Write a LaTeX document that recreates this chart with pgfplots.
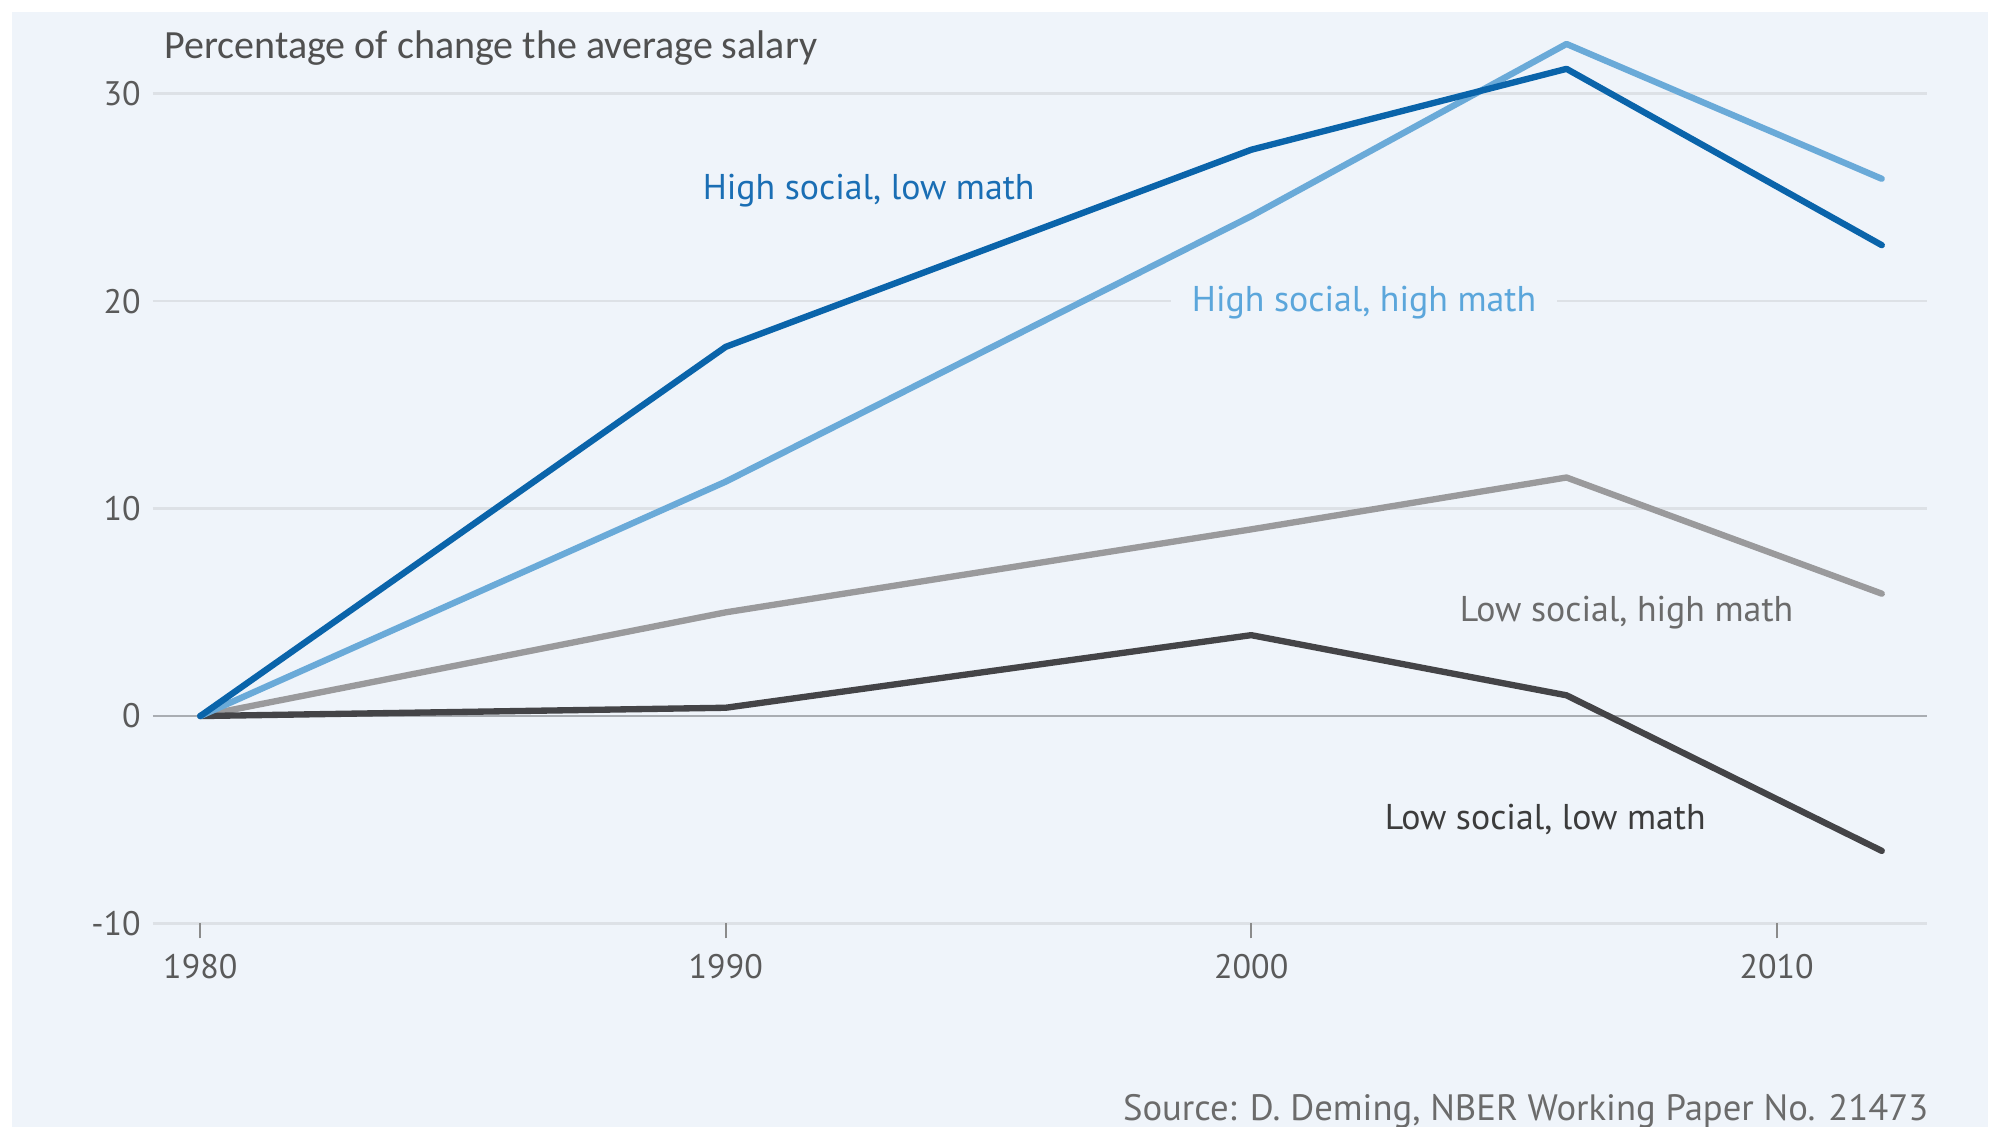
\documentclass[border=0pt]{standalone}
\usepackage{pgfplots}
\pgfplotsset{compat=1.18}
\usepackage{fontspec}
\setmainfont{PT Sans}
\newfontfamily\titlefont{Carlito}
\definecolor{bg}{HTML}{EFF4FA}
\definecolor{darkblue}{HTML}{0A64AA}
\definecolor{lightblue}{HTML}{6AAAD8}
\definecolor{midgray}{HTML}{9A9A9C}
\definecolor{darkgray}{HTML}{444447}
\definecolor{gridc}{HTML}{DDE1E6}
\definecolor{zeroc}{HTML}{A9ADB2}
\definecolor{tickc}{HTML}{5A5A5A}
\definecolor{lbldb}{HTML}{1A6EB4}
\definecolor{lbllb}{HTML}{5BA6DB}
\definecolor{lblmg}{HTML}{6B6B6B}
\definecolor{lbldg}{HTML}{3C3C3C}
\definecolor{titlec}{HTML}{505050}
\pgfplotstableread{
year hslm hshm lshm lslm
1980 0 0 0 0
1990 17.8 11.3 5.0 0.4
2000 27.3 24.1 9.0 3.9
2006 31.2 32.4 11.5 1.0
2012 22.7 25.9 5.9 -6.5
}\datatable
\begin{document}
\begin{tikzpicture}[x=0.3pt,y=0.3pt]
\path[use as bounding box] (0,0) rectangle (1998,1127);
\fill[white] (0,0) rectangle (1998,1127);
\fill[bg] (12,0) rectangle (1988,1115);
\begin{axis}[
  at={(45.9pt,61.05pt)}, anchor=south west,
  scale only axis, width=532.2pt, height=267.6pt,
  xmin=1979.1, xmax=2012.86, ymin=-10, ymax=33,
  axis line style={draw=none},
  xtick={1980,1990,2000,2010}, xticklabels={1980,1990,2000,2010},
  ytick={-10,10,20,30}, yticklabels={-10,10,20,30},
  extra y ticks={0}, extra y tick labels={0},
  extra y tick style={grid style={zeroc, line width=0.75pt}},
  ymajorgrids, grid style={gridc, line width=0.75pt},
  tick pos=left, tick align=outside, major tick length=4.5pt,
  ytick style={draw=none},
  xtick style={draw=tickc!70, line width=0.5pt},
  ticklabel style={font=\fontsize{10.2pt}{12pt}\selectfont, text=tickc},
  /pgf/number format/assume math mode=true,
  yticklabel style={inner sep=0pt, xshift=1.0pt},
  xticklabel style={inner sep=0pt, yshift=-4.6pt},
  clip=false,
  every axis plot/.append style={line width=1.9pt, line join=round, line cap=round},
]
\addplot[midgray] table[x=year,y=lshm] {\datatable};
\addplot[darkgray] table[x=year,y=lslm] {\datatable};
\addplot[lightblue] table[x=year,y=hshm] {\datatable};
\addplot[darkblue] table[x=year,y=hslm] {\datatable};
\node[anchor=west, inner sep=0pt, text=lbldb, font=\fontsize{10.75pt}{12pt}\selectfont] at (axis cs:1989.55,25.35) {High social, low math};
\node[anchor=west, inner xsep=6.3pt, inner ysep=2pt, fill=bg, text=lbllb, font=\fontsize{10.75pt}{12pt}\selectfont] at (axis cs:1998.46,19.95) {High social, high math};
\node[anchor=west, inner sep=0pt, text=lblmg, font=\fontsize{10.75pt}{12pt}\selectfont] at (axis cs:2003.96,5.0) {Low social, high math};
\node[anchor=west, inner sep=0pt, text=lbldg, font=\fontsize{10.75pt}{12pt}\selectfont] at (axis cs:2002.53,-4.97) {Low social, low math};
\end{axis}
\node[anchor=base west, inner sep=0pt, text=titlec, font=\titlefont\fontsize{12pt}{14pt}\selectfont] at (164,1068) {Percentage of change the average salary};
\node[anchor=base east, inner sep=0pt, text=lblmg, font=\fontsize{11pt}{13pt}\selectfont] at (1929,6) {Source: D. Deming, NBER Working Paper No. 21473};
\end{tikzpicture}
\end{document}
